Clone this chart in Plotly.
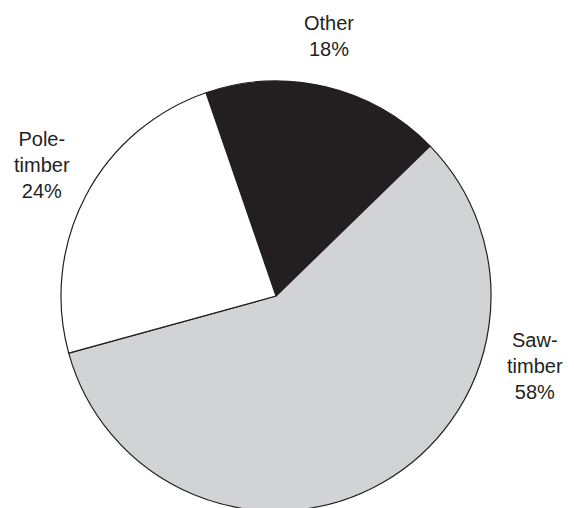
import plotly.graph_objects as go

labels = ["Other", "Saw-timber", "Pole-timber"]
values = [18, 58, 24]
colors = ["#231f20", "#d1d3d4", "#ffffff"]
label_texts = ["Other<br>18%", "Saw-<br>timber<br>58%", "Pole-<br>timber<br>24%"]

fig = go.Figure(go.Pie(
    labels=labels,
    values=values,
    sort=False,
    direction="clockwise",
    rotation=-19,
    marker=dict(colors=colors, line=dict(color="#231f20", width=1.2)),
    textinfo="none",
    hoverinfo="label+percent",
    showlegend=False,
    domain=dict(x=[0.0923, 0.8415], y=[0.0098, 0.8563]),
))

font = dict(family="Liberation Sans, Arial, sans-serif", size=20, color="#231f20")
positions = [(0.5592, 0.9439), (0.9181, 0.2953), (0.0592, 0.6909)]
for txt, (x, y) in zip(label_texts, positions):
    fig.add_annotation(text=txt, x=x, y=y, xref="paper", yref="paper",
                       showarrow=False, font=font, align="center",
                       xanchor="center", yanchor="middle")

fig.update_layout(
    width=574, height=508,
    margin=dict(l=0, r=0, t=0, b=0),
    paper_bgcolor="white",
    plot_bgcolor="white",
)
fig.write_html("out.html")
